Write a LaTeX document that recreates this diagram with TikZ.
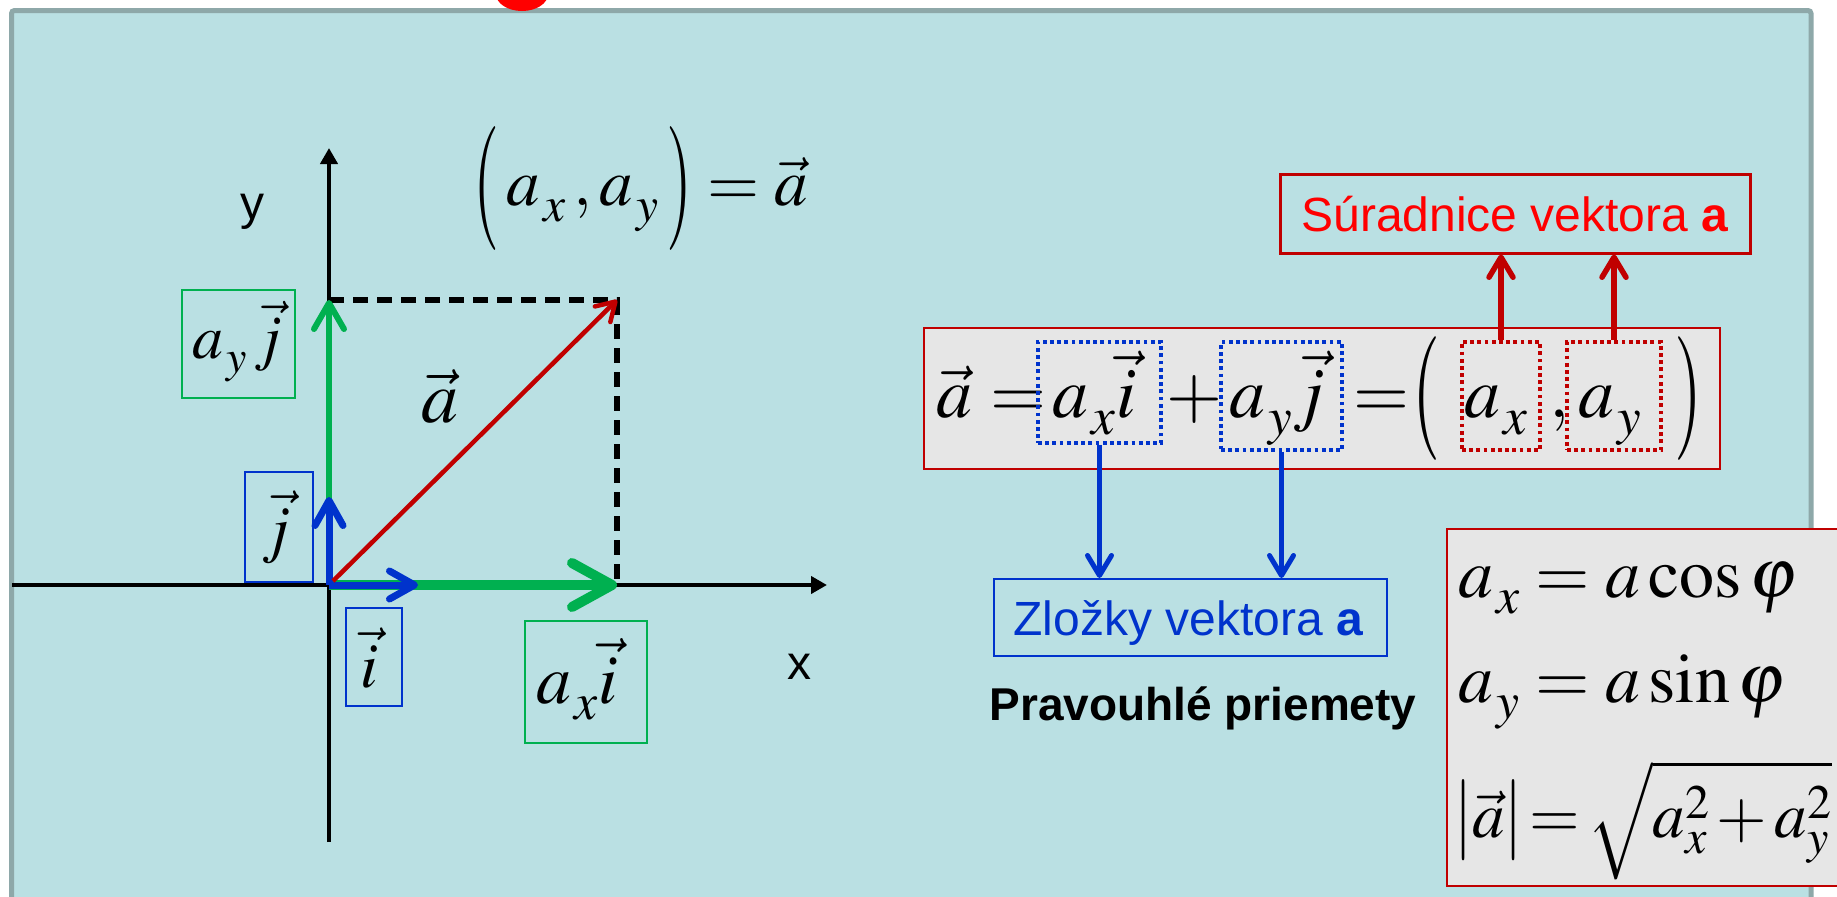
\documentclass[tikz,border=0pt]{standalone}
\usepackage{amsmath}
\usepackage{graphicx}
\usepackage{mathptmx}
\usepackage[no-math]{fontspec}
\setmainfont{Liberation Sans}
\usetikzlibrary{arrows.meta}
\definecolor{panelbg}{HTML}{BAE0E3}
\definecolor{panelrim}{HTML}{8EA8A9}
\definecolor{grn}{HTML}{00B050}
\definecolor{blu}{HTML}{0033CC}
\definecolor{dred}{HTML}{C00000}
\definecolor{brred}{HTML}{FF0000}
\definecolor{lgray}{HTML}{E6E6E6}
\newcommand\fsz[1]{\fontsize{#1}{#1}\selectfont}
\newcommand\BP[2]{\vcenter{\hbox{\scalebox{1}[#1]{$#2$}}}}
\newcommand\sx[1]{_{\kern.05em\raisebox{-.09em}{$\scriptstyle #1$}}}
\begin{document}
\begin{tikzpicture}[x=1pt,y=-1pt,
  axisln/.style={line width=4pt,-{Triangle[length=16pt,width=17pt]}},
  dashln/.style={line width=5.5pt,dash pattern=on 15pt off 9pt},
  gvec/.style={grn,line width=6pt,-{Straight Barb[length=26pt,width=30pt,round]}},
  ghvec/.style={grn,line width=10pt,-{Straight Barb[length=40pt,width=44pt,round]}},
  bvec/.style={blu,line width=7pt,-{Straight Barb[length=25pt,width=28pt,round]}},
  rvec/.style={dred,line width=4.5pt,-{Straight Barb[length=18pt,width=22pt,round]}},
  gbox/.style={draw=grn,line width=1.6pt,inner sep=0pt},
  bbox/.style={draw=blu,line width=1.6pt,inner sep=0pt},
  lbl/.style={inner sep=0pt,anchor=base west},
  ctr/.style={inner sep=0pt,anchor=base},
  bdot/.style={draw=blu,line width=3.8pt,dash pattern=on 3.8pt off 3.4pt,inner sep=0pt},
  rdot/.style={draw=dred,line width=3.8pt,dash pattern=on 3.8pt off 3.4pt,inner sep=0pt},
  bconn/.style={blu,line width=5pt,-{Straight Barb[length=20pt,width=24pt,round]}},
  rconn/.style={dred,line width=5.5pt,-{Straight Barb[length=20pt,width=24pt,round]}},
  graybox/.style={draw=dred,line width=1.6pt,fill=lgray,inner sep=0pt}
]
\useasboundingbox (0,0) rectangle (1837,897);
\clip (0,0) rectangle (1837,897);
\fill[white] (0,0) rectangle (1837,897);
% panel
\draw[panelrim,line width=5pt,fill=panelbg,rounded corners=3pt] (11.5,10.5) rectangle (1811,940);
\fill[brred] (522,-6) ellipse [x radius=26pt, y radius=17pt];

% axes
\coordinate (O) at (329,585);
\coordinate (Ybot) at (329,842);
\coordinate (Ytop) at (329,148);
\coordinate (Xl) at (12,585);
\coordinate (Xr) at (827,585);
\draw[axisln] (Ybot) -- (Ytop);
\draw[axisln] (Xl) -- (Xr);
\node[ctr] (ylab) at (252,219) {\fsz{48}y};
\node[ctr] (xlab) at (799,679) {\fsz{48}x};

% dashed projections
\coordinate (Y1) at (329,300);
\coordinate (X1) at (617,585);
\coordinate (P) at (617,300);
\draw[dashln] (Y1) -- (P) -- (X1);

% component vectors
\draw[gvec] (O) -- (Y1);
\draw[ghvec] (O) -- (X1);
\coordinate (Iend) at (418,585);
\coordinate (Jend) at (329,497);
\draw[bvec] (O) -- (Iend);
\draw[bvec] (O) -- (Jend);
\coordinate (Ra) at (333,581);
\draw[rvec] (Ra) -- (P);

% labels in boxes
\node[gbox,minimum width=113pt,minimum height=108pt] (bayj) at (238.5,344) {};
\node[lbl] (tayj) at (192,358) {\fsz{62}$a\sx{y}\,\vec j$};
\node[bbox,minimum width=68pt,minimum height=110pt] (bj) at (279,527) {};
\node[lbl] (tj) at (262,550) {\fsz{64}$\vec j$};
\node[bbox,minimum width=56pt,minimum height=98pt] (bi) at (374,657) {};
\node[lbl] (ti) at (360,687) {\fsz{64}$\vec i$};
\node[gbox,minimum width=122pt,minimum height=122pt] (baxi) at (586,682) {};
\node[lbl] (taxi) at (536,703) {\fsz{70}$a\sx{x}\vec i$};
\node[lbl] (ta) at (421,422) {\fsz{74}$\vec a$};

% top formula
\node[lbl] (topf) at (473,205) {\fsz{67}$\BP{1.85}{(}\,a\sx{x}\,,a\sx{y}\,\BP{1.85}{)}=\vec a$};

% Suradnice box
\node[draw=dred,line width=3pt,minimum width=470pt,minimum height=79pt,inner sep=0pt] (sur) at (1515,213.5) {};
\node[ctr] (surt) at (1515,231) {\fsz{48}\color{brred}Súradnice vektora \textbf{a}};

% equation box
\node[graybox,minimum width=796pt,minimum height=141pt] (eqb) at (1322,398.5) {};
\node[lbl] (e1) at (936,417) {\fsz{72}$\vec a$};
\node[lbl] (e2) at (990,417) {\fsz{72}$=$};
\node[lbl] (e3) at (1052,417) {\fsz{72}$a\sx{x}\vec i$};
\node[lbl] (e4) at (1166,417) {\fsz{72}$+$};
\node[lbl] (e5) at (1229,417) {\fsz{72}$a\sx{y}\vec j$};
\node[lbl] (e6) at (1353,417) {\fsz{72}$=$};
\node[lbl] (e7) at (1412,417) {\fsz{72}$\BP{1.72}{(}$};
\node[lbl] (e8) at (1464,417) {\fsz{72}$a\sx{x}$};
\node[lbl] (e9) at (1549,417) {\fsz{72}$,$};
\node[lbl] (e10) at (1578,417) {\fsz{72}$a\sx{y}$};
\node[lbl] (e11) at (1674,417) {\fsz{72}$\BP{1.72}{)}$};
\node[bdot,minimum width=123pt,minimum height=101pt] (bx1) at (1099.5,392.5) {};
\node[bdot,minimum width=121pt,minimum height=108pt] (bx2) at (1281.5,396) {};
\node[rdot,minimum width=78pt,minimum height=108pt] (rx1) at (1501,396) {};
\node[rdot,minimum width=94pt,minimum height=108pt] (rx2) at (1614,396) {};

\draw[rconn] (rx1.north) -- (rx1.north |- sur.south);
\draw[rconn] (rx2.north) -- (rx2.north |- sur.south);

% Zlozky box
\node[draw=blu,line width=2pt,minimum width=393pt,minimum height=77pt,inner sep=0pt] (zl) at (1190.5,617.5) {};
\node[ctr] (zlt) at (1188.5,635) {\fsz{48}\color{blu}Zložky vektora \textbf{a}};
\draw[bconn] (bx1.south) -- (bx1.south |- zl.north);
\draw[bconn] (bx2.south) -- (bx2.south |- zl.north);

\node[ctr] (prav) at (1203,720) {\fsz{46}\bfseries Pravouhlé priemety};

% formula box
\node[graybox,minimum width=420pt,minimum height=357pt] (fb) at (1657,707.5) {};
\node[lbl] (f1) at (1458,597) {\fsz{70}$a\sx{x} = a\cos\varphi$};
\node[lbl] (f2) at (1458,702) {\fsz{70}$a\sx{y} = a\sin\varphi$};
\node[lbl] (f3) at (1454,837) {\fsz{65}\thickmuskip=2mu\medmuskip=2mu$\BP{1.25}{|}\vec a\BP{1.25}{|}=\sqrt{a_x^2+a_y^2}$};
\end{tikzpicture}
\end{document}
